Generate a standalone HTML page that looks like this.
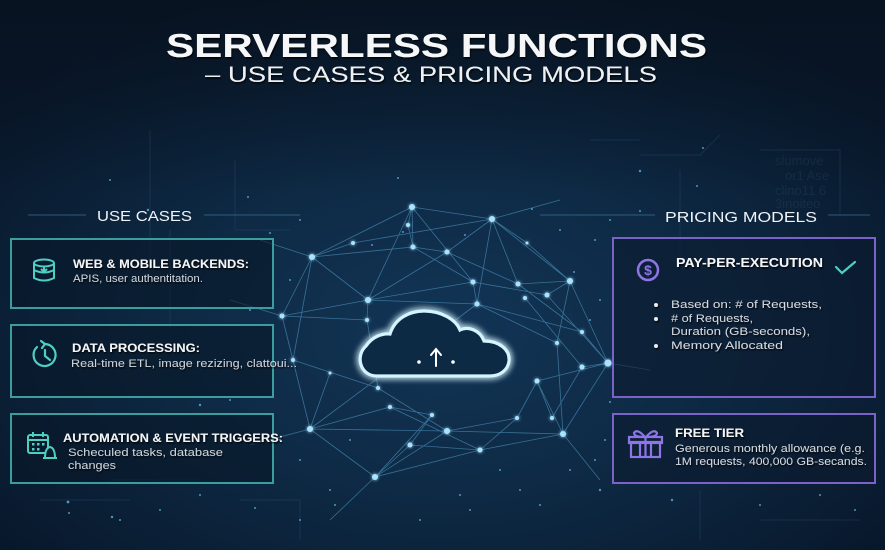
<!DOCTYPE html>
<html><head><meta charset="utf-8"><style>
html,body{margin:0;padding:0;width:885px;height:550px;overflow:hidden;background:#0a1b2c;}
svg{display:block}
text{font-family:"Liberation Sans",sans-serif;}
</style></head><body>
<svg width="885" height="550" viewBox="0 0 885 550" xmlns="http://www.w3.org/2000/svg">
<defs>
<radialGradient id="bg" cx="0.5" cy="0.6" r="0.65">
<stop offset="0" stop-color="#123556"/>
<stop offset="0.45" stop-color="#0e2a45"/>
<stop offset="1" stop-color="#08172a"/>
</radialGradient>
<linearGradient id="topdark" x1="0" y1="0" x2="0" y2="1">
<stop offset="0" stop-color="#07111d" stop-opacity="0.7"/>
<stop offset="0.35" stop-color="#07111d" stop-opacity="0"/>
</linearGradient>
<filter id="glow" x="-50%" y="-50%" width="200%" height="200%">
<feGaussianBlur stdDeviation="3.5" result="b"/>
<feMerge><feMergeNode in="b"/><feMergeNode in="b"/><feMergeNode in="SourceGraphic"/></feMerge>
</filter>
<filter id="nglow" x="-100%" y="-100%" width="300%" height="300%">
<feGaussianBlur stdDeviation="1.5" result="b"/>
<feMerge><feMergeNode in="b"/><feMergeNode in="SourceGraphic"/></feMerge>
</filter>
<filter id="tsh"><feDropShadow dx="1" dy="1.5" stdDeviation="0.8" flood-color="#000" flood-opacity="0.8"/></filter>
</defs>
<rect width="885" height="550" fill="url(#bg)"/>
<rect width="885" height="550" fill="url(#topdark)"/>

<!-- faint circuit lines -->
<g stroke="#2a5a80" stroke-opacity="0.3" stroke-width="1" fill="none">
<path d="M150 130 V260 H120"/><path d="M170 230 V330"/><path d="M235 160 V230 H290"/>
<path d="M640 155 H700 L720 135"/><path d="M760 150 L840 150 V215"/><path d="M680 170 V260"/>
<path d="M110 480 H200"/><path d="M40 500 H130"/><path d="M700 490 V540"/><path d="M760 520 H860"/>
<path d="M700 300 H780"/><path d="M240 500 H300 V540"/><path d="M590 140 H640"/>
</g>
<g fill="#3a6688" fill-opacity="0.2" font-size="13" font-family="Liberation Mono,monospace">
<text x="775" y="165">slumove</text><text x="785" y="180">or1  Ase</text><text x="775" y="195">clino11 6</text><text x="775" y="208">3inoiteo</text>
</g>

<!-- scattered dots -->
<g fill="#5fb3e0" fill-opacity="0.8">
<circle cx="148" cy="210" r="1.2"/><circle cx="248" cy="197" r="1"/><circle cx="398" cy="178" r="1"/><circle cx="640" cy="171" r="1.2"/>
<circle cx="697" cy="186" r="1"/><circle cx="703" cy="148" r="1"/><circle cx="640" cy="211" r="1"/><circle cx="372" cy="245" r="1"/>
<circle cx="403" cy="232" r="1"/><circle cx="532" cy="209" r="1"/><circle cx="574" cy="272" r="1"/><circle cx="110" cy="180" r="1"/>
<circle cx="270" cy="233" r="1"/><circle cx="250" cy="310" r="1"/><circle cx="230" cy="400" r="1"/><circle cx="200" cy="405" r="1.2"/>
<circle cx="68" cy="502" r="1.4"/><circle cx="112" cy="517" r="1.2"/><circle cx="69" cy="513" r="1"/><circle cx="200" cy="495" r="1"/>
<circle cx="120" cy="520" r="1"/><circle cx="160" cy="510" r="1"/><circle cx="255" cy="508" r="1"/><circle cx="300" cy="520" r="1"/>
<circle cx="335" cy="505" r="1"/><circle cx="420" cy="520" r="1"/><circle cx="470" cy="510" r="1"/><circle cx="540" cy="505" r="1"/>
<circle cx="600" cy="490" r="1.2"/><circle cx="672" cy="500" r="1.2"/><circle cx="760" cy="505" r="1"/><circle cx="820" cy="495" r="1"/>
<circle cx="855" cy="510" r="1"/><circle cx="610" cy="402" r="1"/><circle cx="595" cy="460" r="1"/><circle cx="605" cy="440" r="1"/>
<circle cx="590" cy="320" r="1"/><circle cx="600" cy="300" r="1"/><circle cx="595" cy="240" r="1"/><circle cx="610" cy="220" r="1"/>
<circle cx="300" cy="460" r="1"/><circle cx="280" cy="440" r="1"/><circle cx="350" cy="440" r="1"/><circle cx="330" cy="490" r="1"/>
<circle cx="500" cy="470" r="1"/><circle cx="520" cy="490" r="1"/><circle cx="460" cy="495" r="1"/><circle cx="570" cy="470" r="1"/>
<circle cx="290" cy="280" r="1"/><circle cx="300" cy="220" r="1"/><circle cx="560" cy="230" r="1"/><circle cx="465" cy="235" r="1"/>
</g>

<!-- network -->
<g stroke="#5aa7d6" stroke-opacity="0.55" stroke-width="0.8" fill="none">
<path d="M412 207L492 219M412 207L312 257M412 207L413 247M412 207L368 300M412 207L473 282M492 219L447 252M492 219L518 284M492 219L570 281M492 219L477 304M312 257L353 243M312 257L368 300M312 257L282 316M312 257L413 247M413 247L473 282M413 247L447 252M447 252L518 284M447 252L368 300M353 243L492 219M368 300L282 316M368 300L477 304M368 300L367 320M570 281L518 284M570 281L608 363M570 281L557 343M570 281L547 295M518 284L582 332M473 282L477 304M547 295L608 363M525 298L582 367M477 304L582 332M282 316L293 360M282 316L310 429M608 363L563 434M608 363L582 367M608 363L537 381M582 367L552 418M557 343L563 434M582 332L608 363M310 429L375 477M310 429L447 431M310 429L390 407M310 429L293 360M447 431L375 477M447 431L563 434M447 431L517 418M375 477L410 445M375 477L480 450M563 434L480 450M480 450L517 418M480 450L390 407M517 418L537 381M537 381L563 434M390 407L432 415M432 415L410 445M410 445L480 450M367 320L378 388M293 360L378 388M378 388L447 431M330 373L310 429M477 304L557 343M473 282L547 295M537 381L552 418M312 257L293 360M282 316L367 320M368 300L473 282M412 207L408 225M408 225L413 247M375 477L432 415M310 429L477 304M527 243L570 281M527 243L492 219M608 363L650 370M282 316L230 300M310 429L250 445M375 477L330 520M563 434L600 480M492 219L560 200M312 257L260 240"/>
</g>
<g fill="#a8e4ff" filter="url(#nglow)">
<circle cx="412" cy="207" r="3"/><circle cx="492" cy="219" r="3"/><circle cx="312" cy="257" r="3"/><circle cx="413" cy="247" r="2.5"/>
<circle cx="447" cy="252" r="2.5"/><circle cx="353" cy="243" r="2"/><circle cx="368" cy="300" r="3"/><circle cx="570" cy="281" r="3"/>
<circle cx="518" cy="284" r="2.5"/><circle cx="473" cy="282" r="2.5"/><circle cx="547" cy="295" r="2.5"/><circle cx="525" cy="298" r="2"/>
<circle cx="477" cy="304" r="2.5"/><circle cx="282" cy="316" r="2.5"/><circle cx="608" cy="363" r="3.5"/><circle cx="582" cy="367" r="2.5"/>
<circle cx="557" cy="343" r="2"/><circle cx="582" cy="332" r="2"/><circle cx="310" cy="429" r="3"/><circle cx="447" cy="431" r="3"/>
<circle cx="375" cy="477" r="3"/><circle cx="563" cy="434" r="3"/><circle cx="480" cy="450" r="2.5"/><circle cx="517" cy="418" r="2"/>
<circle cx="537" cy="381" r="2.5"/><circle cx="390" cy="407" r="2"/><circle cx="432" cy="415" r="2"/><circle cx="410" cy="445" r="2.5"/>
<circle cx="552" cy="418" r="2"/><circle cx="367" cy="320" r="2"/><circle cx="293" cy="360" r="2"/><circle cx="378" cy="388" r="2"/>
<circle cx="527" cy="243" r="1.5"/><circle cx="408" cy="225" r="2"/><circle cx="330" cy="373" r="1.5"/>
</g>

<!-- cloud -->
<path d="M377 376 C360 376,355 356,366 346 C372 337,382 333,390 334 C395 318,410 311,424 311 C442 311,456 320,460 330 C468 326,480 330,484 341 C500 341,510 350,509 361 C508 370,500 376,490 376 Z" fill="#0c2944" stroke="#d4f4ff" stroke-width="3.2" filter="url(#glow)"/>
<g stroke="#ffffff" stroke-width="2" fill="none" stroke-linecap="round"><path d="M436 366 V350 M431 355 L436 349 L441 355"/></g>
<circle cx="419" cy="362" r="1.8" fill="#fff"/><circle cx="453" cy="362" r="1.8" fill="#fff"/>

<!-- titles -->
<g filter="url(#tsh)">
<text x="166" y="57" font-size="33" font-weight="bold" fill="#f5f7f9" textLength="541" lengthAdjust="spacingAndGlyphs">SERVERLESS FUNCTIONS</text>
<text x="205" y="82" font-size="22" fill="#eef1f4" textLength="452" lengthAdjust="spacingAndGlyphs">– USE CASES &amp; PRICING MODELS</text>
</g>

<!-- section headers -->
<g stroke="#4a7fa6" stroke-opacity="0.6" stroke-width="1">
<line x1="28" y1="215" x2="86" y2="215"/><line x1="204" y1="215" x2="300" y2="215"/>
<line x1="540" y1="215" x2="655" y2="215"/><line x1="828" y1="215" x2="870" y2="215"/>
</g>
<text x="97" y="221" font-size="15" fill="#f0f3f6" textLength="95" lengthAdjust="spacingAndGlyphs">USE CASES</text>
<text x="665" y="222" font-size="15" fill="#f0f3f6" textLength="152" lengthAdjust="spacingAndGlyphs">PRICING MODELS</text>

<!-- left boxes -->
<g fill="#081828" fill-opacity="0.6" stroke="#3b9e9c" stroke-width="2">
<rect x="11" y="239" width="262" height="69"/>
<rect x="11" y="325" width="262" height="72"/>
<rect x="11" y="414" width="262" height="69"/>
</g>
<!-- database icon -->
<g stroke="#4fcfc0" stroke-width="2" fill="none">
<ellipse cx="44" cy="263" rx="10" ry="3.5"/>
<path d="M34 263 V278 Q44 283 54 278 V263 M34 270 Q44 275 54 270"/>
<path d="M44 266 V272 M41 269 L44 272 L47 269"/>
</g>
<!-- clock icon -->
<g stroke="#4fcfc0" stroke-width="2.2" fill="none" stroke-linecap="round">
<path d="M37 347 A11 11 0 1 0 45 344"/>
<path d="M45 344 L41 341 M45 344 L42 348"/>
<path d="M45 350 V356 L50 360"/>
</g>
<!-- calendar icon -->
<g stroke="#4fcfc0" stroke-width="2" fill="none">
<rect x="28" y="435" width="20" height="18" rx="2"/>
<line x1="28" y1="440" x2="48" y2="440"/>
<line x1="33" y1="432" x2="33" y2="437"/><line x1="43" y1="432" x2="43" y2="437"/>
<path d="M45 458 Q45 448 50 447 Q55 448 55 458 Z" fill="#0a1b2c"/>
<line x1="43" y1="458" x2="57" y2="458"/>
</g>
<g fill="#4fcfc0"><rect x="32" y="443" width="2.5" height="2.5"/><rect x="37" y="443" width="2.5" height="2.5"/><rect x="42" y="443" width="2.5" height="2.5"/><rect x="32" y="448" width="2.5" height="2.5"/><rect x="37" y="448" width="2.5" height="2.5"/></g>

<g filter="url(#tsh)">
<text x="73" y="268" font-size="11.5" font-weight="bold" fill="#f3f5f7" textLength="176" lengthAdjust="spacingAndGlyphs">WEB &amp; MOBILE BACKENDS:</text>
<text x="73" y="282" font-size="11" fill="#cdd5dd" textLength="130" lengthAdjust="spacingAndGlyphs">APIS, user authentitation.</text>
<text x="72" y="352" font-size="11.5" font-weight="bold" fill="#f3f5f7" textLength="128" lengthAdjust="spacingAndGlyphs">DATA PROCESSING:</text>
<text x="71" y="367" font-size="11" fill="#cdd5dd" textLength="226" lengthAdjust="spacingAndGlyphs">Real-time ETL, image rezizing, clattoui...</text>
<text x="63" y="442" font-size="11.5" font-weight="bold" fill="#f3f5f7" textLength="220" lengthAdjust="spacingAndGlyphs">AUTOMATION &amp; EVENT TRIGGERS:</text>
<text x="68" y="456" font-size="11" fill="#cdd5dd" textLength="155" lengthAdjust="spacingAndGlyphs">Scheculed tasks, database</text>
<text x="68" y="469" font-size="11" fill="#cdd5dd" textLength="48" lengthAdjust="spacingAndGlyphs">changes</text>
</g>

<!-- right boxes -->
<g fill="#0b1a2e" fill-opacity="0.6" stroke="#7a62c8" stroke-width="2">
<rect x="613" y="238" width="262" height="159"/>
<rect x="613" y="414" width="262" height="69"/>
</g>
<circle cx="648" cy="270" r="10" fill="none" stroke="#8f74e6" stroke-width="2.5"/>
<text x="648" y="275" font-size="14" font-weight="bold" fill="#8f74e6" text-anchor="middle">$</text>
<polyline points="836,267 842,273 855,262" fill="none" stroke="#4fcfc0" stroke-width="2.2" stroke-linecap="round"/>
<!-- gift -->
<g stroke="#8f74e6" stroke-width="2.2" fill="none">
<rect x="631" y="442" width="29" height="15"/>
<rect x="629" y="437" width="33" height="6"/>
<line x1="645.5" y1="437" x2="645.5" y2="457"/><line x1="640" y1="443" x2="640" y2="457"/><line x1="651" y1="443" x2="651" y2="457"/>
<path d="M645 437 Q637 428 634 433 Q634 437 645 437 M646 437 Q654 428 657 433 Q657 437 646 437"/>
</g>

<g filter="url(#tsh)">
<text x="676" y="267" font-size="13" font-weight="bold" fill="#f3f5f7" textLength="147" lengthAdjust="spacingAndGlyphs">PAY-PER-EXECUTION</text>
<g fill="#e8ecf0"><circle cx="656" cy="305" r="2"/><circle cx="656" cy="319" r="2"/><circle cx="656" cy="346" r="2"/></g>
<text x="671" y="308" font-size="11" fill="#d4dae1" textLength="151" lengthAdjust="spacingAndGlyphs">Based on: # of Requests,</text>
<text x="671" y="322" font-size="11" fill="#d4dae1" textLength="82" lengthAdjust="spacingAndGlyphs"># of Requests,</text>
<text x="671" y="335" font-size="11" fill="#d4dae1" textLength="139" lengthAdjust="spacingAndGlyphs">Duration (GB-seconds),</text>
<text x="671" y="349" font-size="11" fill="#d4dae1" textLength="112" lengthAdjust="spacingAndGlyphs">Memory Allocated</text>
<text x="675" y="437" font-size="11.5" font-weight="bold" fill="#f3f5f7" textLength="69" lengthAdjust="spacingAndGlyphs">FREE TIER</text>
<text x="675" y="452" font-size="11" fill="#d4dae1" textLength="190" lengthAdjust="spacingAndGlyphs">Generous monthly allowance (e.g.</text>
<text x="675" y="465" font-size="11" fill="#d4dae1" textLength="192" lengthAdjust="spacingAndGlyphs">1M requests, 400,000 GB-secands.</text>
</g>
</svg>
</body></html>
